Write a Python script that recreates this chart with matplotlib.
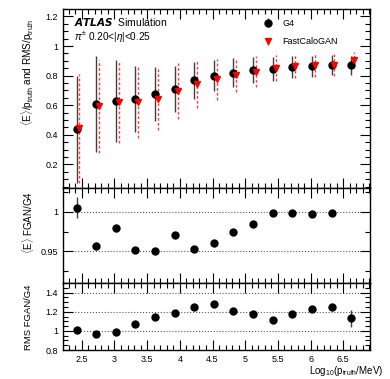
import matplotlib
matplotlib.use("Agg")
import matplotlib.pyplot as plt
import numpy as np
from matplotlib.ticker import MultipleLocator, AutoMinorLocator

plt.rcParams["font.family"] = ["Liberation Sans", "DejaVu Sans"]
plt.rcParams["mathtext.fontset"] = "custom"
plt.rcParams["mathtext.rm"] = "Liberation Sans"
plt.rcParams["mathtext.it"] = "Liberation Sans:italic"
plt.rcParams["mathtext.bf"] = "Liberation Sans:bold"

# log10(p_truth/MeV) bin centres
log_p = [2.42, 2.72, 3.02, 3.32, 3.62, 3.92, 4.22, 4.52, 4.82, 5.12, 5.42, 5.72, 6.02, 6.32, 6.62]

# <E>/p_truth and RMS/p_truth
g4_mean = [0.436, 0.610, 0.628, 0.641, 0.673, 0.711, 0.768, 0.800, 0.820, 0.836, 0.845, 0.860, 0.862, 0.870, 0.870]
g4_rms = [0.363, 0.325, 0.278, 0.225, 0.183, 0.155, 0.127, 0.103, 0.100, 0.088, 0.083, 0.075, 0.074, 0.068, 0.063]
gan_mean = [0.444, 0.592, 0.619, 0.619, 0.643, 0.698, 0.740, 0.775, 0.804, 0.827, 0.850, 0.863, 0.870, 0.872, 0.906]
gan_rms = [0.368, 0.315, 0.278, 0.243, 0.208, 0.190, 0.160, 0.138, 0.113, 0.107, 0.088, 0.082, 0.080, 0.077, 0.053]

# ratios FGAN/G4
mean_ratio = [1.005, 0.957, 0.979, 0.952, 0.950, 0.971, 0.953, 0.960, 0.974, 0.984, 0.999, 0.999, 0.997, 0.999, 1.041]
mean_ratio_err = [0.013, 0.004, 0.004, 0.003, 0.002, 0.002, 0.002, 0.002, 0.001, 0.001, 0.001, 0.001, 0.001, 0.001, 0.001]
rms_ratio = [1.010, 0.968, 0.989, 1.070, 1.145, 1.190, 1.250, 1.283, 1.213, 1.181, 1.110, 1.173, 1.227, 1.250, 1.131]
rms_ratio_err = [0.015, 0.012, 0.012, 0.012, 0.012, 0.012, 0.012, 0.012, 0.012, 0.012, 0.012, 0.012, 0.012, 0.020, 0.090]

x = np.array(log_p)
shift = 0.045

fig = plt.figure(figsize=(3.9, 3.79), dpi=100)
ax1 = fig.add_axes([0.161, 0.504, 0.788, 0.472])
ax2 = fig.add_axes([0.161, 0.253, 0.788, 0.251], sharex=ax1)
ax3 = fig.add_axes([0.161, 0.0765, 0.788, 0.1765], sharex=ax1)

ax1.errorbar(x, g4_mean, yerr=g4_rms, fmt="o", color="black", ms=5,
             elinewidth=1.0, ecolor="0.25", capsize=0, label="G4")
eb2 = ax1.errorbar(x + shift, gan_mean, yerr=gan_rms, fmt="v", color="red", ms=5,
                   elinewidth=1.0, ecolor="#ff4040", capsize=0, label="FastCaloGAN")
eb2[2][0].set_linestyle((0, (2, 1.5)))

ax2.errorbar(x, mean_ratio, yerr=mean_ratio_err, fmt="o", color="black", ms=5,
             elinewidth=1.0, ecolor="0.25", capsize=0)
ax3.errorbar(x, rms_ratio, yerr=rms_ratio_err, fmt="o", color="black", ms=5,
             elinewidth=1.0, ecolor="0.25", capsize=0)

for y in [1.0, 0.95]:
    ax2.axhline(y, color="0.35", ls=":", lw=0.8, zorder=0)
for y in [1.4, 1.2, 1.0]:
    ax3.axhline(y, color="0.35", ls=":", lw=0.8, zorder=0)

ax1.set_xlim(2.21, 6.91)
ax1.set_ylim(0.04, 1.25)
ax2.set_ylim(0.91, 1.03)
ax3.set_ylim(0.8, 1.5)

ax1.yaxis.set_major_locator(MultipleLocator(0.2))
ax1.yaxis.set_minor_locator(AutoMinorLocator(4))
ax2.yaxis.set_major_locator(MultipleLocator(0.05))
ax2.yaxis.set_minor_locator(AutoMinorLocator(2))
ax3.yaxis.set_major_locator(MultipleLocator(0.2))
ax3.yaxis.set_minor_locator(AutoMinorLocator(4))
ax1.xaxis.set_major_locator(MultipleLocator(0.5))
ax1.xaxis.set_minor_locator(AutoMinorLocator(5))

for ax in (ax1, ax2, ax3):
    ax.tick_params(which="both", direction="in", top=True, right=True, labelsize=6.5, width=0.8)
    ax.tick_params(which="major", length=7)
    ax.tick_params(which="minor", length=3.5)
    for s in ax.spines.values():
        s.set_linewidth(1.0)

ax1.tick_params(labelbottom=False)
ax2.tick_params(labelbottom=False)
fmt = plt.FuncFormatter(lambda v, p: f"{v:g}")
ax1.yaxis.set_major_formatter(fmt)
ax2.yaxis.set_major_formatter(fmt)
ax3.yaxis.set_major_formatter(fmt)
ax3.xaxis.set_major_formatter(fmt)
ax1.set_yticks([0.2, 0.4, 0.6, 0.8, 1.0, 1.2])
ax3.set_yticks([0.8, 1.0, 1.2, 1.4])

ax1.text(0.035, 0.905, r"$\mathbfit{ATLAS}$  Simulation", transform=ax1.transAxes, fontsize=7.5)
ax1.text(0.035, 0.82, r"$\pi^{\pm}$ 0.20<|$\eta$|<0.25", transform=ax1.transAxes, fontsize=7.2)
ax1.legend(loc="upper left", bbox_to_anchor=(0.62, 0.99), frameon=False, fontsize=6.5,
           handletextpad=0.8, labelspacing=1.0, handlelength=1.5)

fig.text(0.072, 0.81, r"$\langle$E$\rangle$/p$_{\rm truth}$ and RMS/p$_{\rm truth}$",
         rotation=90, ha="center", va="center", fontsize=7.2)
fig.text(0.072, 0.414, r"$\langle$E$\rangle$ FGAN/G4", rotation=90, ha="center", va="center", fontsize=7)
fig.text(0.072, 0.162, "RMS FGAN/G4", rotation=90, ha="center", va="center", fontsize=6.8)
fig.text(0.982, 0.012, r"Log$_{10}$(p$_{\rm truth}$/MeV)", ha="right", va="baseline", fontsize=7)

fig.savefig("out.png", dpi=100)
